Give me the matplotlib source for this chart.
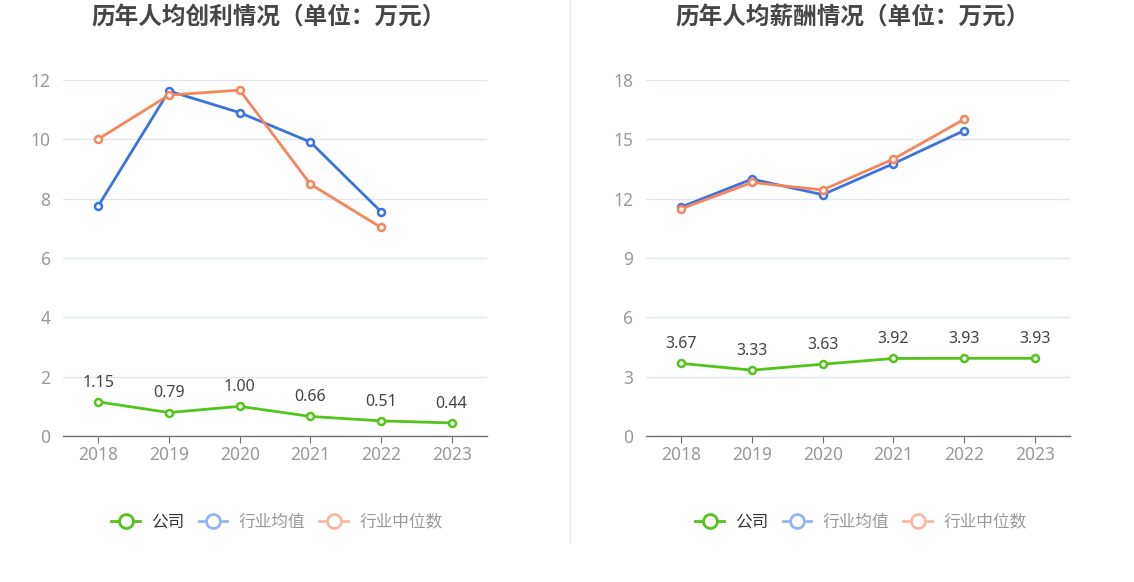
import matplotlib
matplotlib.use("Agg")
import matplotlib.pyplot as plt
from matplotlib.lines import Line2D

plt.rcParams['font.family'] = ['Noto Sans', 'Noto Sans CJK SC', 'DejaVu Sans']
CJK = ['Noto Sans CJK SC', 'DejaVu Sans']

years = ['2018', '2019', '2020', '2021', '2022', '2023']

# 历年人均创利
profit_company = [1.15, 0.79, 1.00, 0.66, 0.51, 0.44]
profit_mean = [7.76, 11.63, 10.90, 9.91, 7.56]
profit_median = [10.01, 11.49, 11.66, 8.49, 7.03]

# 历年人均薪酬
salary_company = [3.67, 3.33, 3.63, 3.92, 3.93, 3.93]
salary_mean = [11.58, 12.99, 12.20, 13.77, 15.44]
salary_median = [11.49, 12.82, 12.44, 14.00, 16.01]

titles = ['历年人均创利情况（单位：万元）', '历年人均薪酬情况（单位：万元）']
yticks_list = [[0, 2, 4, 6, 8, 10, 12], [0, 3, 6, 9, 12, 15, 18]]
legend_labels = ['公司', '行业均值', '行业中位数']

GREEN = '#52c41a'
BLUE = '#3a73e0'
ORANGE = '#f7855a'
BLUE_L = '#93b5f5'
ORANGE_L = '#fcb9a1'

W, H = 1134, 582
fig = plt.figure(figsize=(W / 100, H / 100), dpi=100)

def box(x0, x1, ytop, ybot):
    return [x0 / W, 1 - ybot / H, (x1 - x0) / W, (ybot - ytop) / H]

axes = [fig.add_axes(box(63, 487, 80, 436)), fig.add_axes(box(646, 1070, 80, 436))]
datasets = [(profit_company, profit_mean, profit_median),
            (salary_company, salary_mean, salary_median)]
centers = [269, 853]

for ax, (comp, mean, med), title, yt, cx in zip(axes, datasets, titles, yticks_list, centers):
    x = list(range(len(years)))
    ax.set_xlim(-0.5, len(years) - 0.5)
    ax.set_ylim(yt[0], yt[-1])
    ax.set_yticks(yt)
    ax.set_xticks(x)
    ax.set_xticklabels(years)
    ax.grid(axis='y', color='#e0e6f1', linewidth=1)
    ax.set_axisbelow(True)
    for s in ['top', 'right', 'left']:
        ax.spines[s].set_visible(False)
    ax.spines['bottom'].set_color('#6e7079')
    ax.spines['bottom'].set_linewidth(1)
    ax.tick_params(axis='y', length=0, labelsize=12.5, labelcolor='#999999', pad=9)
    ax.tick_params(axis='x', length=5, color='#6e7079', labelsize=12.5, labelcolor='#999999', pad=2)

    mk = dict(marker='o', markersize=5, markerfacecolor='white', markeredgewidth=1.8, linewidth=2, clip_on=False)
    ax.plot(x[:len(mean)], mean, color=BLUE, zorder=3, **mk)
    ax.plot(x[:len(med)], med, color=ORANGE, zorder=3, **mk)
    ax.plot(x, comp, color=GREEN, zorder=4, **mk)
    for xi, v in zip(x, comp):
        ax.annotate(f'{v:.2f}', (xi, v), xytext=(0, 8), textcoords='offset points',
                    ha='center', va='bottom', fontsize=11.5, color='#444444')

    fig.text(cx / W, 1 - 18 / H, title, ha='center', va='center', fontsize=17,
             fontweight='bold', color='#464646', family=CJK)

    handles = [Line2D([0], [0], color=GREEN, marker='o', markersize=10, markerfacecolor='white',
                      markeredgewidth=2, linewidth=2),
               Line2D([0], [0], color=BLUE_L, marker='o', markersize=10, markerfacecolor='white',
                      markeredgewidth=2, linewidth=2),
               Line2D([0], [0], color=ORANGE_L, marker='o', markersize=10, markerfacecolor='white',
                      markeredgewidth=2, linewidth=2)]
    leg = fig.legend(handles, legend_labels, loc='center', bbox_to_anchor=((cx + 8) / W, 1 - 522 / H),
                     ncol=3, frameon=False, prop={'family': CJK, 'size': 12},
                     handlelength=1.7, handletextpad=0.7, columnspacing=0.85)
    for t, c in zip(leg.get_texts(), ['#333333', '#999999', '#999999']):
        t.set_color(c)

fig.add_artist(Line2D([570 / W, 570 / W], [1 - 543 / H, 1.0], color='#e8e8e8', linewidth=1))

fig.savefig('out.png', dpi=100, facecolor='white')
